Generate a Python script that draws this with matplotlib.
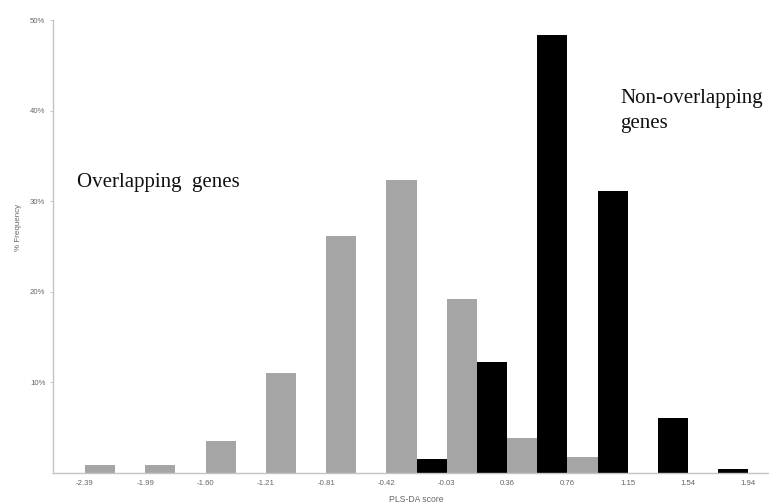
import numpy as np
import matplotlib
matplotlib.use("Agg")
import matplotlib.pyplot as plt
import matplotlib.transforms as mtransforms

# PLS-DA score bins and % frequency of genes per bin
SCORES = ["-2.39", "-1.99", "-1.60", "-1.21", "-0.81", "-0.42",
          "-0.03", "0.36", "0.76", "1.15", "1.54", "1.94"]
NON_OVERLAPPING = [0, 0, 0, 0, 0, 0, 1.6, 12.3, 48.3, 31.1, 6.1, 0.4]
OVERLAPPING = [0.9, 0.9, 3.5, 11.0, 26.2, 32.3, 19.2, 3.9, 1.8, 0, 0, 0]
Y_TICKS = [10, 20, 30, 40, 50]

W, H = 769, 503
fig = plt.figure(figsize=(W / 100, H / 100), dpi=100)
ax = fig.add_axes([53 / W, 1 - 473 / H, 1 - 53 / W, (473 - 20) / H])

x = np.arange(len(SCORES))
ax.bar(x - 0.5, NON_OVERLAPPING, width=0.5, align="edge", color="black")
ax.bar(x, OVERLAPPING, width=0.5, align="edge", color="#a5a5a5")

ax.set_xlim(-0.53, (W - 85) / 60.3)
ax.set_ylim(0, 50)

ax.set_xticks(x)
ax.set_xticklabels(SCORES)
ax.set_yticks(Y_TICKS)
ax.set_yticklabels([f"{v}%" for v in Y_TICKS])

tick_font = "Liberation Sans"
ax.tick_params(axis="x", length=0, pad=5, labelsize=5.6, labelcolor="#666666")
ax.tick_params(axis="y", length=2.5, width=0.6, color="#bfbfbf", pad=3,
               labelsize=5.6, labelcolor="#666666")
for lbl in ax.get_xticklabels() + ax.get_yticklabels():
    lbl.set_fontfamily(tick_font)

for side in ("top", "right"):
    ax.spines[side].set_visible(False)
for side in ("left", "bottom"):
    ax.spines[side].set_color("#c4c4c4")
    ax.spines[side].set_linewidth(1.0)

# axis titles
blend = mtransforms.blended_transform_factory(ax.transData, fig.transFigure)
ax.text(5.5, 1 - 499 / H, "PLS-DA score", transform=blend, ha="center",
        va="center", fontsize=6.2, color="#666666", family=tick_font)
fig.text(19 / W, 1 - 227 / H, "% Frequency", rotation=90, ha="center",
         va="center", fontsize=5.8, color="#666666", family=tick_font)

# group annotations
fig.text(77 / W, 1 - 187 / H, "Overlapping  genes", ha="left", va="baseline",
         fontsize=15, family="Liberation Serif", color="#111111")
fig.text(620 / W, 1 - 89 / H, "Non-overlapping\ngenes", ha="left", va="top",
         fontsize=15, family="Liberation Serif", color="#111111",
         linespacing=1.4)

fig.savefig("out.png", dpi=100)
